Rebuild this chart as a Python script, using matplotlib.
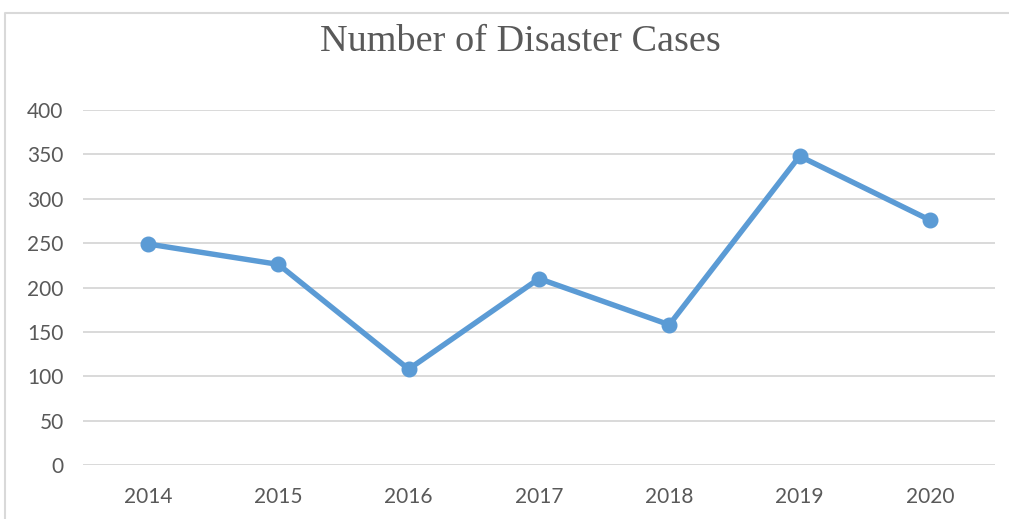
import matplotlib
matplotlib.use("Agg")
import matplotlib.pyplot as plt
from matplotlib.lines import Line2D

years = ["2014", "2015", "2016", "2017", "2018", "2019", "2020"]
cases = [249, 226, 108, 210, 158, 348, 276]
y_ticks = [0, 50, 100, 150, 200, 250, 300, 350, 400]

W, H = 1009, 519
fig = plt.figure(figsize=(W / 100, H / 100), dpi=100)
ax = fig.add_axes([83 / W, 1 - 465 / H, (995 - 83) / W, (465 - 110) / H])

# chart area border: only the top and left edges are visible in the screenshot
bx, by = 4.5 / W, 1 - 12.5 / H
fig.lines.append(Line2D([bx, bx, 1.0], [0.0, by, by], transform=fig.transFigure,
                        color="#D9D9D9", linewidth=1.5))

x = list(range(len(years)))
ax.plot(x, cases, color="#5B9BD5", linewidth=3.9, marker="o", markersize=10.5,
        solid_capstyle="round", zorder=3)

ax.set_xlim(-0.5, len(years) - 0.5)
ax.set_ylim(0, 400)
ax.set_yticks(y_ticks)
ax.set_xticks(x)
ax.set_xticklabels(years)
ax.grid(axis="y", color="#D9D9D9", linewidth=1.4)
ax.set_axisbelow(True)
for s in ax.spines.values():
    s.set_visible(False)
ax.tick_params(length=0, labelsize=15, labelcolor="#595959")
ax.tick_params(axis="y", pad=14)
ax.tick_params(axis="x", pad=16)
for lab in ax.get_xticklabels() + ax.get_yticklabels():
    lab.set_family("Lato")

fig.text(520 / W, 1 - 42 / H, "Number of Disaster Cases", ha="center", va="center",
         fontsize=27.5, color="#595959", family="Liberation Serif")

fig.savefig("out.png", dpi=100)
